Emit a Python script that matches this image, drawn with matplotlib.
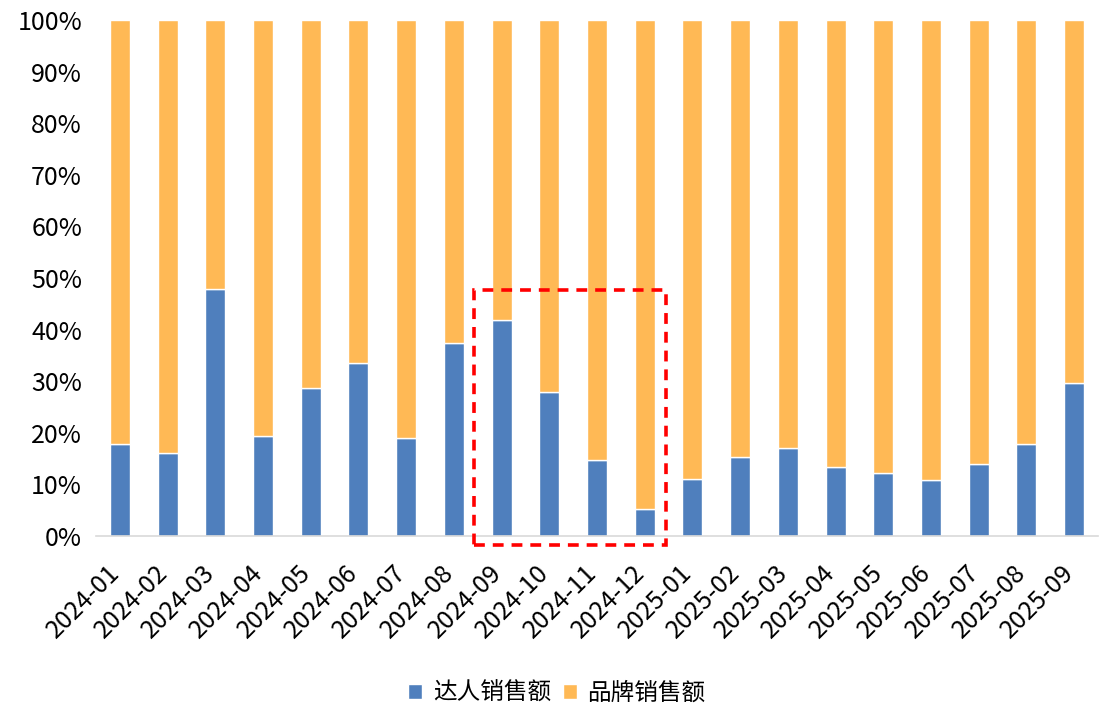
import numpy as np
import matplotlib.pyplot as plt
import matplotlib.transforms as mtransforms
from matplotlib.patches import Rectangle

plt.rcParams['font.family'] = ['Noto Sans CJK SC', 'DejaVu Sans']

months = ["2024-01", "2024-02", "2024-03", "2024-04", "2024-05", "2024-06", "2024-07",
          "2024-08", "2024-09", "2024-10", "2024-11", "2024-12", "2025-01", "2025-02",
          "2025-03", "2025-04", "2025-05", "2025-06", "2025-07", "2025-08", "2025-09"]
# 达人销售额 share (%)
kol_share = [17.8, 16.0, 47.8, 19.3, 28.7, 33.5, 18.9, 37.5, 41.9, 28.0, 14.8,
             5.3, 11.0, 15.3, 17.0, 13.3, 12.3, 10.8, 13.9, 17.8, 29.7]
# 品牌销售额 share (%) = remainder
brand_share = [100 - v for v in kol_share]

blue = "#4F7FBD"
orange = "#FFB955"

fig = plt.figure(figsize=(11.09, 7.06), dpi=100)
ax = fig.add_axes([96 / 1109, 1 - 536 / 706, 1002 / 1109, 516 / 706])

x = np.arange(len(months))
kol = np.array(kol_share) / 100
brand = np.array(brand_share) / 100
ax.bar(x, kol, width=0.42, color=blue, edgecolor="white", linewidth=1, label="达人销售额")
ax.bar(x, brand, width=0.42, bottom=kol, color=orange, edgecolor="white", linewidth=1,
       label="品牌销售额")

ax.set_xlim(-0.5, len(months) - 0.5)
ax.set_ylim(0, 1)
yt = np.arange(0, 1.01, 0.1)
ax.set_yticks(yt)
ax.set_yticklabels([f"{int(round(t * 100))}%" for t in yt], fontsize=18)
ax.set_xticks(x)
ax.set_xticklabels(months, rotation=45, ha="right", va="center", rotation_mode="anchor",
                   fontsize=18)
ax.tick_params(axis="y", length=0, pad=10)
ax.tick_params(axis="x", length=0, pad=24)

# nudge the slanted month labels a little to the left
shift = mtransforms.ScaledTranslation(-4 / 100, 0, fig.dpi_scale_trans)
for lbl in ax.get_xticklabels():
    lbl.set_transform(lbl.get_transform() + shift)

for side in ["top", "right", "left"]:
    ax.spines[side].set_visible(False)
ax.spines["bottom"].set_color("#D9D9D9")
ax.spines["bottom"].set_linewidth(1.2)

# highlight box around 2024-09 .. 2024-12
box = Rectangle((7.42, -0.017), 4.03, 0.494, fill=False, edgecolor="#FF0000",
                linewidth=2.6, linestyle=(0, (3, 2.2)), clip_on=False, zorder=5)
ax.add_patch(box)

fig.legend(loc="lower center", bbox_to_anchor=(0.502, -0.028), ncol=2, frameon=False,
           fontsize=17, handlelength=0.6, handleheight=0.6, handletextpad=0.45,
           columnspacing=0.5)

fig.savefig("out.png", dpi=100)
